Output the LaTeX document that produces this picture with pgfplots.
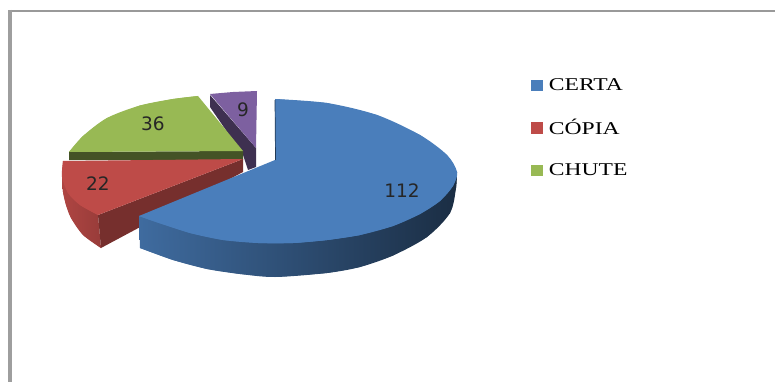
\documentclass[border=0pt]{standalone}
\usepackage{fontspec}
\setmainfont{Liberation Serif}
\newfontfamily\labelfont{DejaVu Sans}
\usepackage{pgfplots}
\pgfplotsset{compat=1.18}
\definecolor{certa}{HTML}{4A7EBB}
\definecolor{copia}{HTML}{BE4B48}
\definecolor{chute}{HTML}{98B954}
\definecolor{outro}{HTML}{7D60A0}
\begin{document}
\begin{tikzpicture}
\useasboundingbox (0,0) rectangle (775pt,382pt);
\begin{axis}[
  at={(0,0)}, anchor=south west,
  scale only axis, width=775pt, height=382pt,
  xmin=0, xmax=775, ymin=0, ymax=382, y dir=reverse,
  hide axis, clip=false,
  legend style={
    at={(0.6852,0.8005)}, anchor=north west, draw=none, fill=none,
    inner sep=0pt, outer sep=0pt, row sep=23.6pt,
    /tikz/every even column/.append style={column sep=5.5pt},
    font=\fontsize{18}{18}\selectfont},
  legend cell align=left,
  legend image code/.code={\fill[#1] (0pt,-5.2pt) rectangle (10.5pt,5.2pt);},
  bluerim/.style={left color=certa!85!black, middle color=certa!52!black, right color=certa!36!black, draw=none},
  redrim/.style={left color=copia!92!black, right color=copia!80!black, draw=none},
]
% frame of the sheet
\addplot[forget plot, draw=black!40, line width=2pt] coordinates {(8,11) (775,11)};
\addplot[forget plot, draw=black!38, line width=3.6pt] coordinates {(9.8,10) (9.8,382)};

% Each face is a polygon through its corners and arc points, with the smooth arc laid over it.
% slice 9: cut face, then top
\addplot[forget plot, fill=outro!50!black, draw=none] coordinates
  {(210,95) (256,148) (256,167) (248,170) (243,155) (210,107)} --cycle;
\addplot[forget plot, fill=outro, draw=none] coordinates
  {(210,94) (233,92) (257,91) (256,148)} --cycle;

% slice 36: cut face, then top
\addplot[forget plot, fill=chute!45!black, draw=none] coordinates
  {(69,152) (243,151) (243,160) (69,160)} --cycle;
\addplot[forget plot, fill=chute, draw=none] coordinates
  {(243,151) (69,152) (83,136) (107,118) (140,105.5) (173,99) (198,96)} --cycle;
\addplot[forget plot, smooth, fill=chute, draw=none] coordinates
  {(69,152) (83,136) (107,118) (140,105.5) (173,99) (198,96)};

% slice 22: rim, cut face, top
\addplot[forget plot, redrim] coordinates
  {(62,177) (63,192) (66,205) (71,218) (83,235) (101,248) (98,215) (80,195)} --cycle;
\addplot[forget plot, smooth, redrim] coordinates
  {(62,177) (63,192) (66,205) (71,218) (83,235) (101,248)};
\addplot[forget plot, fill=copia!62!black, draw=none] coordinates
  {(98,215) (243,159) (243,172) (101,248)} --cycle;
\addplot[forget plot, fill=copia, draw=none] coordinates
  {(243,159) (63,161) (62,177) (68,193) (80,205) (98,215)} --cycle;
\addplot[forget plot, smooth, fill=copia, draw=none] coordinates
  {(63,161) (62,177) (68,193) (80,205) (98,215)};

% slice 112: rim, top (its arc runs past a half turn, so it is laid in two parts), inner edge
\addplot[forget plot, bluerim] coordinates
  {(139,216) (140,248) (173,260) (207,269) (240,274) (275,277)
   (327,273) (360,267) (393,255.5) (427,237) (450,213) (456,188) (457,172) (275,200)} --cycle;
\addplot[forget plot, smooth, bluerim] coordinates
  {(140,248) (173,260) (207,269) (240,274) (275,277)
   (327,273) (360,267) (393,255.5) (427,237) (450,213) (456,188) (457,172)};
\addplot[forget plot, fill=certa, draw=none] coordinates
  {(275,160) (275,99) (327,103) (377,115) (420,135) (447,155) (457,172)
   (453,186) (440,201) (420,214) (393,226) (360,235) (327,240) (293,243) (258,243)
   (223,240) (190,233) (156,222) (139,216)} --cycle;
\addplot[forget plot, smooth, fill=certa, draw=none] coordinates
  {(275,99) (327,103) (377,115) (420,135) (447,155) (457,172)
   (453,186) (440,201) (420,214) (393,226) (360,235) (327,240) (293,243)};
\addplot[forget plot, smooth, fill=certa, draw=none] coordinates
  {(360,235) (327,240) (293,243) (258,243) (223,240) (190,233) (156,222) (139,216)};
\addplot[forget plot, draw=certa!45!black, line width=0.7pt] coordinates {(275,100) (275.5,160)};

% slice values
\addplot[forget plot, draw=none, mark=none, point meta=explicit symbolic,
  nodes near coords, nodes near coords align={center},
  every node near coord/.append style={font=\labelfont\fontsize{18.5}{18.5}\selectfont, text=black!85, inner sep=0pt}]
  coordinates {(402,191) [112] (98,184) [22] (153,124) [36] (243,110) [9]};

% key
\addlegendimage{certa}\addlegendentry{\hspace{5pt}\scalebox{1.31}[1]{CERTA}}
\addlegendimage{copia}\addlegendentry{\hspace{5pt}\scalebox{1.31}[1]{CÓPIA}}
\addlegendimage{chute}\addlegendentry{\hspace{5pt}\scalebox{1.31}[1]{CHUTE}}
\end{axis}
\end{tikzpicture}
\end{document}
